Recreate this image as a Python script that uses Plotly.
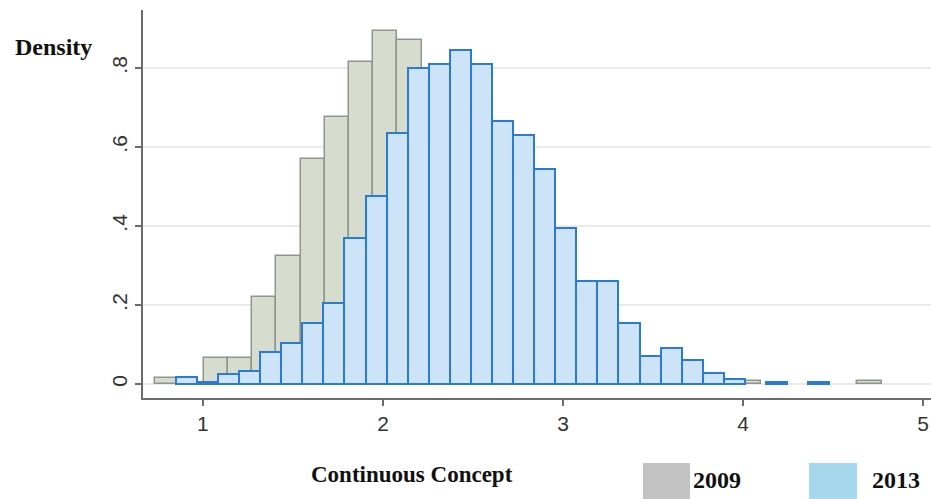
import plotly.graph_objects as go

# ---- data ----
bin_start_2009 = 0.735
bin_width_2009 = 0.1345
density_2009 = [0.015, None, 0.066, 0.066, 0.22, 0.325, 0.57, 0.675, 0.815, 0.895, 0.87,
                None, None, None, None, None, None, None, None, None, None, None, None, None,
                0.008, None, None, None, None, 0.008]

bin_start_2013 = 0.849
bin_width_2013 = 0.1171
density_2013 = [0.018, 0.005, 0.025, 0.033, 0.08, 0.105, 0.155, 0.205, 0.37, 0.475, 0.635,
                0.80, 0.81, 0.845, 0.81, 0.665, 0.63, 0.545, 0.395, 0.26, 0.26, 0.155, 0.07,
                0.09, 0.06, 0.027, 0.012, None, 0.004, None, 0.004]

x_ticks = [1, 2, 3, 4, 5]
y_ticks = [0, 0.2, 0.4, 0.6, 0.8]
y_ticktext = ["0", ".2", ".4", ".6", ".8"]
legend_labels = ["2009", "2013"]

centers_2009 = [bin_start_2009 + bin_width_2009 * (i + 0.5) for i in range(len(density_2009))]
centers_2013 = [bin_start_2013 + bin_width_2013 * (i + 0.5) for i in range(len(density_2013))]

fig = go.Figure()
fig.add_trace(go.Bar(
    x=centers_2009, y=density_2009, width=bin_width_2009, name="2009",
    marker=dict(color="#d7ddce", line=dict(color="#8f958b", width=1.5)),
    showlegend=False))
fig.add_trace(go.Bar(
    x=centers_2013, y=density_2013, width=bin_width_2013, name="2013",
    marker=dict(color="#cde3f8", line=dict(color="#2b7bd2", width=2)),
    showlegend=False))

serif = "Liberation Serif, Times New Roman, serif"
sans = "Liberation Sans, Arial, sans-serif"

fig.update_layout(
    width=931, height=499,
    margin=dict(l=143, r=0, t=10, b=101),
    plot_bgcolor="white", paper_bgcolor="white",
    barmode="overlay", bargap=0,
    xaxis=dict(range=[0.667, 5.044], tickvals=x_ticks, ticks="outside", ticklen=6,
               tickwidth=2, tickcolor="#6b6b6b", showline=True, linecolor="#6b6b6b",
               linewidth=2, showgrid=False, zeroline=False,
               tickfont=dict(family=sans, size=21, color="#333333")),
    yaxis=dict(range=[-0.0354, 0.947], tickvals=y_ticks, ticktext=y_ticktext,
               tickangle=-90, ticks="outside", ticklen=6, tickwidth=2,
               tickcolor="#6b6b6b", showline=True, linecolor="#6b6b6b", linewidth=2,
               showgrid=True, gridcolor="#ebebeb", gridwidth=2, zeroline=False,
               tickfont=dict(family=sans, size=21, color="#333333")),
    font=dict(family=serif),
)

fig.add_annotation(text="<b>Density</b>", xref="paper", yref="paper",
                   x=-0.1135, y=0.905, xanchor="center", yanchor="middle", showarrow=False,
                   font=dict(family=serif, size=24, color="#111111"))
fig.add_annotation(text="<b>Continuous Concept</b>", xref="paper", yref="paper",
                   x=0.342, y=-0.196, xanchor="center", yanchor="middle", showarrow=False,
                   font=dict(family=serif, size=23, color="#111111"))

# legend swatches and labels
fig.add_shape(type="rect", xref="paper", yref="paper", x0=0.6345, x1=0.6942,
              y0=-0.1675, y1=-0.30, fillcolor="#c2c2c2", line=dict(width=0))
fig.add_shape(type="rect", xref="paper", yref="paper", x0=0.8452, x1=0.9061,
              y0=-0.1675, y1=-0.30, fillcolor="#a5d8ed", line=dict(width=0))
fig.add_annotation(text="<b>" + legend_labels[0] + "</b>", xref="paper", yref="paper",
                   x=0.6954, y=-0.2113, xanchor="left", yanchor="middle", showarrow=False,
                   font=dict(family=serif, size=24, color="#111111"))
fig.add_annotation(text="<b>" + legend_labels[1] + "</b>", xref="paper", yref="paper",
                   x=0.9226, y=-0.2113, xanchor="left", yanchor="middle", showarrow=False,
                   font=dict(family=serif, size=24, color="#111111"))

fig.write_html("out.html")
